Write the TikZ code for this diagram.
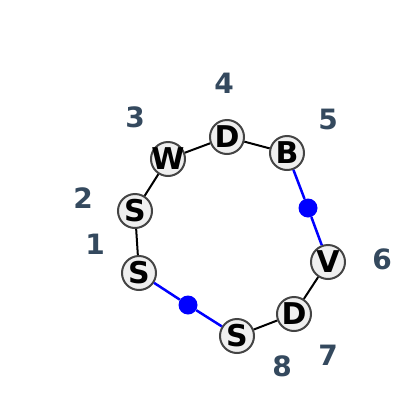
\documentclass[tikz,border=0pt]{standalone}
\usepackage{fontspec}
\setmainfont{DejaVu Sans}
\definecolor{lbl}{HTML}{34495E}
\definecolor{nfill}{HTML}{EFEFEF}
\definecolor{nborder}{HTML}{444444}
\newcommand{\vl}[1]{\makebox[0pt]{#1}}
\begin{document}
\begin{tikzpicture}[x=1pt,y=-1pt,
  vtx/.style={circle,draw=nborder,fill=nfill,line width=2pt,minimum size=34pt,inner sep=0pt,
    font=\fontsize{30}{30}\selectfont\bfseries},
  num/.style={text=lbl,font=\fontsize{28}{28}\selectfont\bfseries,inner sep=0pt},
  edge/.style={line width=2pt,black},
  bedge/.style={line width=2.5pt,blue},
  bdot/.style={circle,fill=blue,inner sep=0pt,minimum size=19pt}]
\useasboundingbox (0,0) rectangle (400,410);
\node[vtx] (s1) at (139,273) {\vl{S}};
\node[vtx] (s2) at (135,211) {\vl{S}};
\node[vtx] (w) at (168,159) {\vl{W}};
\node[vtx] (d4) at (227,137) {\vl{D}};
\node[vtx] (b) at (287,153) {\vl{B}};
\node[vtx] (v) at (328,262) {\vl{V}};
\node[vtx] (d7) at (294,314) {\vl{D}};
\node[vtx] (s8) at (237,336) {\vl{S}};
\node[bdot] (m1) at (308,208) {};
\node[bdot] (m2) at (188,305) {};
\draw[edge] (s1) -- (s2);
\draw[edge] (s2) -- (w);
\draw[edge] (w) -- (d4);
\draw[edge] (d4) -- (b);
\draw[edge] (v) -- (d7);
\draw[edge] (d7) -- (s8);
\draw[bedge] (b) -- (m1);
\draw[bedge] (m1) -- (v);
\draw[bedge] (s1) -- (m2);
\draw[bedge] (m2) -- (s8);
\node[num] (l1) at (95,244) {1};
\node[num] (l2) at (83,198) {2};
\node[num] (l3) at (135,117) {3};
\node[num] (l4) at (224,83) {4};
\node[num] (l5) at (328,119) {5};
\node[num] (l6) at (382,259) {6};
\node[num] (l7) at (328,355) {7};
\node[num] (l8) at (282,366) {8};
\end{tikzpicture}
\end{document}
